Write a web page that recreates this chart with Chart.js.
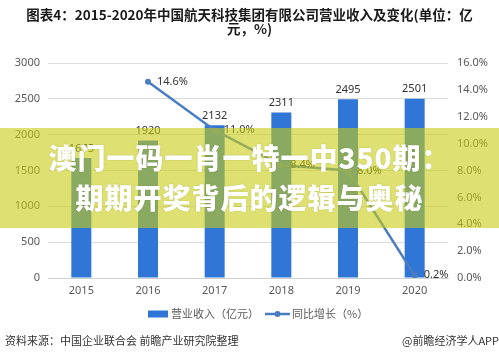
<!DOCTYPE html>
<html>
<head>
<meta charset="utf-8">
<script src="https://cdn.jsdelivr.net/npm/chart.js@4/dist/chart.umd.min.js"></script>
<style>
  html, body { margin: 0; padding: 0; background: #fff; }
  #wrap { position: relative; width: 499px; height: 357px; overflow: hidden; background: #fff; }
  #c { position: absolute; left: 0; top: 0; }
  #title { position: absolute; left: 0; top: 7px; width: 499px; text-align: center;
    font-family: "Noto Sans CJK SC", sans-serif; font-weight: 700; font-size: 13.5px; line-height: 14px; color: #1a1a1a; }
  .src { position: absolute; top: 332px; font-family: "Noto Sans CJK SC", sans-serif; font-size: 11px; line-height: 16px; color: #333; white-space: nowrap; }
  #band { position: absolute; left: 0; top: 128px; width: 499px; height: 100px; background: rgba(200,205,20,0.6); }
  #bandText { position: absolute; left: 0; top: 137px; width: 499px; text-align: center;
    font-family: "Noto Sans CJK SC", sans-serif; font-weight: 900; font-size: 28px; line-height: 40px; letter-spacing: 1px; color: #fff;
    text-shadow: 0 0 2px rgba(0,0,0,0.15); white-space: nowrap; }
</style>
</head>
<body>
<div id="wrap">
  <canvas id="c" width="499" height="357"></canvas>
  <div id="title">图表4：2015-2020年中国航天科技集团有限公司营业收入及变化(单位：亿<br>元，%)</div>
  <div class="src" style="left:5px;">资料来源：中国企业联合会 前瞻产业研究院整理</div>
  <div class="src" style="left:402px;">@前瞻经济学人APP</div>
  <div id="band"></div>
  <div id="bandText">澳门一码一肖一特一中350期：<br>期期开奖背后的逻辑与奥秘</div>
</div>
<script>
const years = ["2015", "2016", "2017", "2018", "2019", "2020"];
const revenue = [1675, 1920, 2132, 2311, 2495, 2501];
const growth = [null, 14.6, 11.0, 8.4, 8.0, 0.2];
const revenueTicks = [0, 500, 1000, 1500, 2000, 2500, 3000];
const growthTicks = [0, 2, 4, 6, 8, 10, 12, 14, 16];
const seriesNames = ["营业收入（亿元）", "同比增长（%）"];

const barColor = "#2f76d6";
const lineColor = "#4a7cc4";
const tickFont = { family: '"Noto Sans", "Noto Sans CJK SC", sans-serif', size: 11 };

const labelPlugin = {
  id: 'valueLabels',
  afterDatasetsDraw(chart) {
    const ctx = chart.ctx;
    ctx.save();
    ctx.font = '11px "Noto Sans", "Noto Sans CJK SC", sans-serif';
    ctx.fillStyle = '#333';
    chart.data.datasets.forEach((ds, di) => {
      const meta = chart.getDatasetMeta(di);
      meta.data.forEach((el, i) => {
        const v = ds.data[i];
        if (v === null || v === undefined) return;
        if (ds.type === 'bar') {
          ctx.textAlign = 'center';
          ctx.textBaseline = 'bottom';
          ctx.fillText(String(v), el.x, el.y - 4);
        } else {
          ctx.textAlign = 'left';
          ctx.textBaseline = 'middle';
          ctx.fillText(v.toFixed(1) + '%', el.x + 9, el.y);
        }
      });
    });
    ctx.restore();
  }
};

const legendPlugin = {
  id: 'customLegend',
  afterDraw(chart) {
    const ctx = chart.ctx;
    ctx.save();
    ctx.font = '11px "Noto Sans CJK SC", sans-serif';
    ctx.textBaseline = 'middle';
    ctx.textAlign = 'left';
    const y = 314;
    ctx.fillStyle = barColor;
    ctx.fillRect(148, y - 3.5, 20, 7);
    ctx.fillStyle = '#595959';
    ctx.fillText(chart.data.datasets[1].label, 171, y);
    ctx.strokeStyle = lineColor;
    ctx.lineWidth = 2.5;
    ctx.beginPath();
    ctx.moveTo(265, y);
    ctx.lineTo(290, y);
    ctx.stroke();
    ctx.fillStyle = lineColor;
    ctx.beginPath();
    ctx.arc(277.5, y, 3, 0, Math.PI * 2);
    ctx.fill();
    ctx.fillStyle = '#595959';
    ctx.fillText(chart.data.datasets[0].label, 292, y);
    ctx.restore();
  }
};

new Chart(document.getElementById('c'), {
  data: {
    labels: years,
    datasets: [
      {
        type: 'line',
        label: seriesNames[1],
        data: growth,
        yAxisID: 'y1',
        borderColor: lineColor,
        backgroundColor: lineColor,
        borderWidth: 2.5,
        pointRadius: 3,
        pointHoverRadius: 3,
        pointBackgroundColor: lineColor,
        pointBorderWidth: 0,
        tension: 0,
        spanGaps: false,
        order: 0
      },
      {
        type: 'bar',
        label: seriesNames[0],
        data: revenue,
        yAxisID: 'y',
        backgroundColor: barColor,
        barPercentage: 0.3,
        categoryPercentage: 1,
        order: 1
      }
    ]
  },
  options: {
    responsive: false,
    devicePixelRatio: 1,
    animation: false,
    layout: { padding: { top: 63, bottom: 57, left: 0, right: 0 } },
    plugins: {
      legend: { display: false },
      title: { display: false },
      tooltip: { enabled: false }
    },
    scales: {
      x: {
        grid: { display: false, drawTicks: false },
        border: { display: true, color: '#d0d0d0', width: 1 },
        ticks: { font: tickFont, color: '#595959', padding: 6, maxRotation: 0 },
        afterFit(s) { s.height = 22; }
      },
      y: {
        position: 'left',
        min: 0, max: 3000,
        afterBuildTicks(s) { s.ticks = revenueTicks.map(v => ({ value: v })); },
        grid: { color: '#dcdcdc', drawTicks: false },
        border: { display: false },
        ticks: { font: tickFont, color: '#595959', padding: 8, callback: v => String(v) },
        afterFit(s) { s.width = 48; }
      },
      y1: {
        position: 'right',
        min: 0, max: 16,
        afterBuildTicks(s) { s.ticks = growthTicks.map(v => ({ value: v })); },
        grid: { display: false, drawTicks: false },
        border: { display: false },
        ticks: { font: tickFont, color: '#595959', padding: 9, callback: v => v.toFixed(1) + '%' },
        afterFit(s) { s.width = 51; }
      }
    }
  },
  plugins: [labelPlugin, legendPlugin]
});
</script>
</body>
</html>
